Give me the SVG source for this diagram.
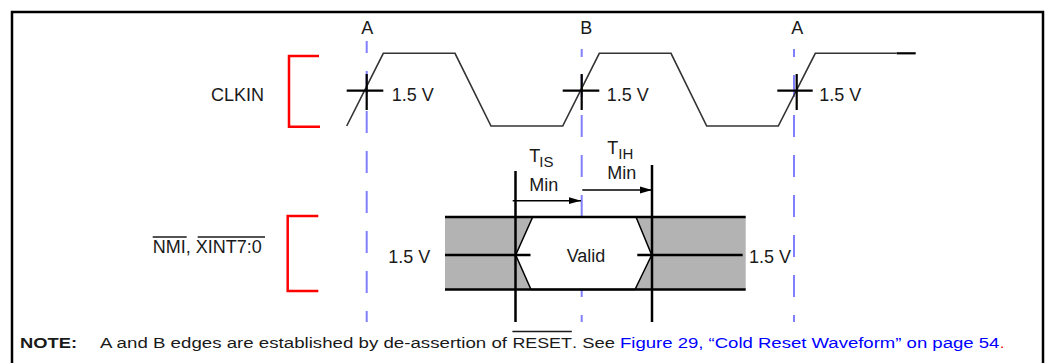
<svg xmlns="http://www.w3.org/2000/svg" width="1054" height="363" viewBox="0 0 1054 363">
<style>
text{font-family:"Liberation Sans",Arial,Helvetica,sans-serif;font-size:18px;fill:#1a1a1a}
.sub{font-size:15px}
.note{font-size:15.5px}
.blue{fill:#0000ff}
.red{fill:#ff0000}
.frame{stroke:#000;stroke-width:2.5;fill:none}
.brk{stroke:#ff0000;stroke-width:2.5;fill:none}
.dash{stroke:#8080ff;stroke-width:2;stroke-dasharray:22 18;fill:none}
.wave{stroke:#333;stroke-width:1.6;fill:none}
.cross{stroke:#000;stroke-width:2.2;fill:none}
.blk{stroke:#000;stroke-width:2.5;fill:none}
.thin{stroke:#000;stroke-width:1.5;fill:none}
.hex{stroke:#000;stroke-width:1.5;fill:#fff}
.ovl{stroke:#1a1a1a;stroke-width:1.5}
</style>
<defs>
<marker id="arr" markerUnits="userSpaceOnUse" markerWidth="14" markerHeight="10" refX="13" refY="5" orient="auto">
<path d="M1,1.6 L13,5 L1,8.4 Z" fill="#000"/>
</marker>
</defs>
<rect width="1054" height="363" fill="#fff"/>
<g id="frame">
<path class="frame" d="M12,363 V12 H1043 V363"/>
</g>
<g id="edge-guides">
<line class="dash" x1="366.7" y1="41" x2="366.7" y2="322" stroke-dashoffset="10"/>
<line class="dash" x1="581.7" y1="49" x2="581.7" y2="322" stroke-dashoffset="14"/>
<line class="dash" x1="794" y1="49" x2="794" y2="322" stroke-dashoffset="14"/>
<text x="367.3" y="34" text-anchor="middle">A</text>
<text x="586.3" y="34" text-anchor="middle">B</text>
<text x="797.3" y="34" text-anchor="middle">A</text>
</g>
<g id="clkin">
<text x="237.5" y="101" text-anchor="middle">CLKIN</text>
<path class="brk" d="M319,56 H289 V126.7 H320"/>
<path class="wave" d="M346.7,126 L383.3,53.3 L455,53.3 L491,126 L562.7,126 L599.3,53.3 L671,53.3 L706.7,126 L778.3,126 L815.3,53.3 L896.7,53.3"/>
<line x1="896.7" y1="53.3" x2="915.7" y2="53.3" stroke="#000" stroke-width="2.2"/>
<path class="cross" d="M346.7,90.7 H383.3 M366.7,74 V110"/>
<path class="cross" d="M562.7,90.7 H599.3 M581.7,74 V110"/>
<path class="cross" d="M777.3,90.7 H812.7 M796.7,74 V110"/>
<text x="391.7" y="101">1.5 V</text>
<text x="606.7" y="101">1.5 V</text>
<text x="819.3" y="101">1.5 V</text>
</g>
<g id="nmi">
<text x="152.7" y="253.3">NMI, XINT7:0</text>
<line class="ovl" x1="152.7" y1="237" x2="186.7" y2="237"/>
<line class="ovl" x1="197.7" y1="237" x2="265" y2="237"/>
<path class="brk" d="M318.3,216 H287.7 V291 H318.3"/>
<rect x="445" y="217" width="300.7" height="72.5" fill="#b3b3b3"/>
<polygon class="hex" points="532.7,217 636,217 651.7,255 635,289.5 531,289.5 515.7,255"/>
<line class="blk" x1="445" y1="217" x2="745.7" y2="217"/>
<line class="blk" x1="445" y1="289.5" x2="745.7" y2="289.5"/>
<line class="blk" x1="445" y1="255" x2="530.5" y2="255"/>
<line class="blk" x1="637.3" y1="255" x2="742.7" y2="255"/>
<text x="388.3" y="263.3">1.5 V</text>
<text x="749" y="263">1.5 V</text>
<text x="586" y="261.7" text-anchor="middle">Valid</text>
</g>
<g id="timing">
<line class="blk" x1="515.5" y1="171" x2="515.5" y2="322"/>
<line class="blk" x1="652" y1="165" x2="652" y2="322"/>
<text x="529.3" y="162">T</text>
<text class="sub" x="539.3" y="166.5">IS</text>
<text x="529.3" y="190.7">Min</text>
<text x="607.3" y="154">T</text>
<text class="sub" x="618.3" y="159">IH</text>
<text x="607.3" y="179.3">Min</text>
</g>
<g id="connectors">
<line class="thin" x1="512.7" y1="200.7" x2="581" y2="200.7" marker-end="url(#arr)" stroke-width="2"/>
<line class="thin" x1="582.3" y1="190" x2="652" y2="190" marker-end="url(#arr)" stroke-width="2"/>
</g>
<g id="note">
<text class="note" x="20" y="347.5" font-weight="bold" textLength="57" lengthAdjust="spacingAndGlyphs">NOTE:</text>
<text class="note" x="100" y="347.5" textLength="407" lengthAdjust="spacingAndGlyphs">A and B edges are established by de-assertion of</text>
<text class="note" x="512.4" y="347.5" textLength="59.5" lengthAdjust="spacingAndGlyphs">RESET</text>
<line class="ovl" x1="512.4" y1="331.5" x2="571.8" y2="331.5"/>
<text class="note" x="572" y="347.5" textLength="43" lengthAdjust="spacingAndGlyphs">. See</text>
<text class="note blue" x="620" y="347.5" textLength="379.3" lengthAdjust="spacingAndGlyphs">Figure 29, “Cold Reset Waveform” on page 54</text>
<text class="note red" x="1000" y="347.5">.</text>
</g>
</svg>
